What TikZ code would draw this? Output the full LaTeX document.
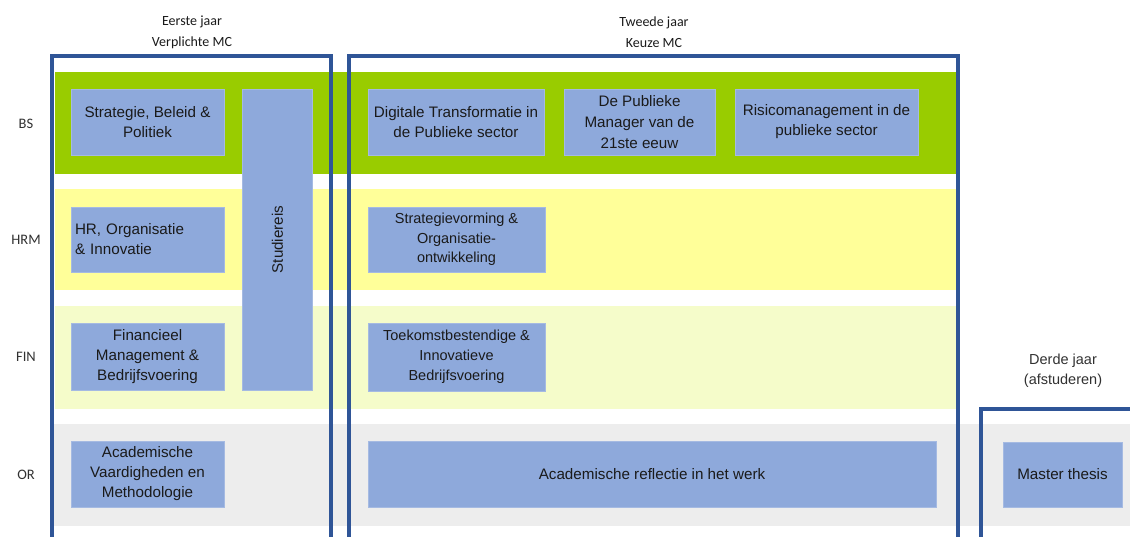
\documentclass[tikz,border=0pt]{standalone}
\usepackage{fontspec}
\setmainfont{Liberation Sans}
\newfontfamily\lblfont{Carlito}
\definecolor{bsgreen}{HTML}{99CC00}
\definecolor{hrmyellow}{HTML}{FFFF99}
\definecolor{finyellow}{HTML}{F5FCCA}
\definecolor{orgray}{HTML}{EDEDED}
\definecolor{coursefill}{HTML}{8EA9DB}
\definecolor{frameblue}{HTML}{2F5597}
\definecolor{textdark}{HTML}{1A1A1A}
\begin{document}
\begin{tikzpicture}[x=1pt,y=-1pt,
  course/.style={fill=coursefill, draw=coursefill!80!white, line width=0.6pt, inner sep=0pt,
    align=center, text=textdark, font=\fontsize{15.2}{20}\selectfont},
  yearframe/.style={draw=frameblue, line width=3.8pt},
  rowlabel/.style={font=\lblfont\fontsize{14.5}{16}\selectfont, text=textdark!90},
  header/.style={font=\lblfont\fontsize{14}{21}\selectfont, align=center, text=textdark},
  header3/.style={font=\fontsize{14.5}{20.5}\selectfont, align=center, text=textdark!90}
]
\useasboundingbox (0,0) rectangle (1130,536);
\clip (0,0) rectangle (1130,536);

% bands
\fill[bsgreen] (55,72) rectangle (958,174);
\fill[hrmyellow] (55,189) rectangle (958,290);
\fill[finyellow] (55,306) rectangle (958,409);
\fill[orgray] (52,424) rectangle (1130,526);

% row labels
\node[rowlabel] (lbs) at (26,124) {BS};
\node[rowlabel] (lhrm) at (26,240) {HRM};
\node[rowlabel] (lfin) at (26,357) {FIN};
\node[rowlabel] (lor) at (26,475) {OR};

% headers
\node[header] (h1) at (192,32.5) {Eerste jaar\\Verplichte MC};
\node[header] (h2) at (654,32.5) {Tweede jaar\\Keuze MC};
\node[header3] (h3) at (1063,370.5) {Derde jaar\\(afstuderen)};

% year 1 courses
\node[course, minimum width=153pt, minimum height=66pt] (sbp) at (147.5,122) {Strategie, Beleid \&\\Politiek};
\node[course, minimum width=153pt, minimum height=65pt, text width=145pt, align=left] (hro) at (147.5,239.5) {HR, Organisatie\\\& Innovatie};
\node[course, minimum width=153pt, minimum height=67pt] (fmb) at (147.5,356.5) {Financieel\\Management \&\\Bedrijfsvoering};
\node[course, minimum width=153pt, minimum height=66pt] (avm) at (147.5,474) {Academische\\Vaardigheden en\\Methodologie};
\node[course, minimum width=70pt, minimum height=301pt] (stud) at (277.5,239.5) {};
\node[font=\fontsize{15.2}{20}\selectfont, text=textdark, rotate=90] (studt) at (stud.center) {Studiereis};

% year 2 courses
\node[course, minimum width=176pt, minimum height=66pt] (dtp) at (456,122) {Digitale Transformatie in\\de Publieke sector};
\node[course, minimum width=151pt, minimum height=66pt, font=\fontsize{15.2}{21}\selectfont] (dpm) at (639.5,122) {De Publieke\\Manager van de\\21ste eeuw};
\node[course, minimum width=183pt, minimum height=66pt] (rpm) at (826.5,122) {Risicomanagement in de\\publieke sector};
\node[course, minimum width=177pt, minimum height=65pt, font=\fontsize{14.5}{19.5}\selectfont] (sov) at (456.5,239.5) {Strategievorming \&\\Organisatie-\\ontwikkeling};
\node[course, minimum width=177pt, minimum height=68pt, font=\fontsize{14.5}{20}\selectfont] (tib) at (456.5,357) {Toekomstbestendige \&\\Innovatieve\\Bedrijfsvoering};
\node[course, minimum width=568pt, minimum height=66pt] (arw) at (652,474) {Academische reflectie in het werk};

% year 3
\node[course, minimum width=119pt, minimum height=65pt] (mth) at (1062.5,474.5) {Master thesis};

% year frames
\draw[yearframe] (52,56) rectangle (331,560);
\draw[yearframe] (349,56) rectangle (958,560);
\draw[yearframe] (981,409) rectangle (1150,560);
\end{tikzpicture}
\end{document}
